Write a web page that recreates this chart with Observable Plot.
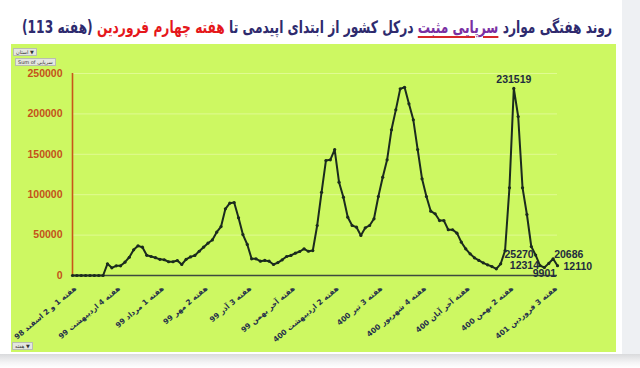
<!DOCTYPE html>
<html>
<head>
<meta charset="utf-8">
<script src="https://cdn.jsdelivr.net/npm/d3@7"></script>
<script src="https://cdn.jsdelivr.net/npm/@observablehq/plot@0.6"></script>
<style>
  html, body { margin: 0; padding: 0; background: #ffffff; }
  #wrap { position: relative; width: 640px; height: 368px; overflow: hidden; background: #ffffff; }
  #rightStrip { position: absolute; left: 622px; top: 0; width: 18px; height: 368px; background: #eef0f3; }
  #bottomStrip { position: absolute; left: 0; top: 354px; width: 640px; height: 14px; background: linear-gradient(#d9dadc, #f4f4f5 60%, #ffffff); }
  #panel { position: absolute; left: 11px; top: 44px; width: 605px; height: 308px; background: #cdf862; }
  #title { position: absolute; left: 22px; top: 17px; direction: rtl; transform-origin: left center;
           font-family: "DejaVu Sans", sans-serif; font-weight: bold; font-size: 17px; color: #2e2a6e; white-space: nowrap; }
  #title .hl { color: #7a2fa3; text-decoration: underline; text-decoration-color: #d6262a; text-decoration-thickness: 2px; text-underline-offset: 3px; }
  #title .red { color: #e5171b; }
  .btn { position: absolute; background: #e4e6e0; border: 1px solid #b9bdb2; font-family: "DejaVu Sans", sans-serif;
         font-size: 5px; line-height: 6px; color: #333; padding: 0 2px; white-space: nowrap; }
  #chart { position: absolute; left: 0; top: 0; }
</style>
</head>
<body>
<div id="wrap">
  <div id="rightStrip"></div>
  <div id="bottomStrip"></div>
  <div id="panel"></div>
  <span id="title">روند هفتگی موارد <span class="hl">سرپایی مثبت</span> درکل کشور از ابتدای اپیدمی تا <span class="red">هفته چهارم فروردین</span> (هفته 113)</span>
  <div class="btn" style="left:13px; top:48px;">استان ▼</div>
  <div class="btn" style="left:15px; top:58px;">Sum of سرپایی</div>
  <div class="btn" style="left:12px; top:342px;">هفته ▼</div>
  <div id="chart"></div>
</div>
<script>
// Weekly positive outpatient cases (one value per week)
const weeklyCases = [
  0, 0, 0, 0, 0, 0, 0, 0,
  14500, 9500, 12000, 12000, 16500, 22600, 31800, 36700, 35000, 25000,
  23500, 22000, 20000, 19500, 17000, 17000, 18500, 13600, 20000, 23000,
  24800, 30000, 35000, 40000, 44000, 53600, 60600, 82500, 89500, 90300,
  71400, 50700, 38400, 20600, 20600, 17700, 18600, 17700, 13600, 16000,
  19400, 23500, 24800, 27600, 29700, 33000, 30000, 30900, 61900, 103000,
  142300, 143200, 155900, 115500, 96900, 72200, 61900, 59800, 49500, 59000,
  61900, 70200, 97800, 121700, 143200, 180300, 205000, 231000, 233000, 212500,
  192700, 155900, 119700, 97800, 79600, 76400, 68000, 68000, 56600, 56600,
  52400, 41200, 33000, 26800, 21900, 18600, 15700, 13200, 11100, 8300,
  14500, 30900, 108500, 231519, 196800, 108500, 75500, 35900, 25270, 12314,
  9901, 15000, 20686, 12110
];

// Category tick labels (one every 10 weeks)
const tickLabels = [
  "هفته 1 و 2 اسفند 98",
  "هفته 4 اردیبهشت 99",
  "هفته 1 مرداد 99",
  "هفته 2 مهر 99",
  "هفته 3 آذر 99",
  "هفته آخر بهمن 99",
  "هفته 2 اردیبهشت 400",
  "هفته 3 تیر 400",
  "هفته 4 شهریور 400",
  "هفته آخر آبان 400",
  "هفته 2 بهمن 400",
  "هفته 3 فروردین 401"
];
const tickEvery = 10;

const yTicks = [0, 50000, 100000, 150000, 200000, 250000];

// weeks that carry a data label
const labeledWeeks = [101, 106, 107, 108, 110, 111];

const data = weeklyCases.map((v, i) => ({week: i, cases: v}));
const ticks = tickLabels.map((t, k) => ({week: k * tickEvery, label: t}));
const labeled = labeledWeeks.map(w => ({week: w, cases: weeklyCases[w]}));

const lineColor = "#1b2b1e";
const labelFont = "Liberation Sans, Arial, sans-serif";
const labelColor = "#1f2c3e";

function labelMark(w, opts) {
  return Plot.text(labeled.filter(d => d.week === w), {
    x: "week", y: "cases", text: d => String(d.cases),
    fontFamily: labelFont, fontWeight: "bold", fontSize: 10.5, fill: labelColor, ...opts
  });
}

const plot = Plot.plot({
  width: 640,
  height: 368,
  marginLeft: 72,
  marginRight: 83,
  marginTop: 73,
  marginBottom: 93,
  style: {background: "transparent", overflow: "visible"},
  x: {domain: [0, weeklyCases.length - 1], axis: null},
  y: {domain: [0, 250000], axis: null},
  marks: [
    Plot.gridY(yTicks.slice(1), {stroke: "#e2fb98", strokeOpacity: 0.9, strokeWidth: 1}),
    Plot.axisY(yTicks, {
      label: null, tickSize: 0, tickPadding: 10, tickFormat: d => String(d),
      fill: "#c4531a", fontWeight: "bold", fontSize: 10.5, fontFamily: labelFont
    }),
    Plot.ruleX([0], {y1: 0, y2: 250000, stroke: "#c8561a", strokeWidth: 1.6}),
    Plot.ruleY([0], {x1: 0, x2: weeklyCases.length - 1, stroke: "#3e4a3e", strokeWidth: 1.5}),
    Plot.line(data, {x: "week", y: "cases", stroke: lineColor, strokeWidth: 2, curve: "linear"}),
    Plot.dot(data, {x: "week", y: "cases", r: 1.6, fill: lineColor, stroke: "none"}),
    Plot.text(ticks, {
      x: "week", y: () => 0, text: "label", rotate: -40, textAnchor: "end",
      dx: 3, dy: 12, fontFamily: "DejaVu Sans, sans-serif", fontWeight: "bold", fontSize: 7.4, fill: "#25304a"
    }),
    labelMark(101, {textAnchor: "middle", dy: -9}),
    labelMark(106, {textAnchor: "end", dx: -2, dy: 0}),
    labelMark(107, {textAnchor: "end", dx: -1, dy: 0}),
    labelMark(108, {textAnchor: "middle", dy: 6}),
    labelMark(110, {textAnchor: "start", dx: 1, dy: -4}),
    labelMark(111, {textAnchor: "start", dx: 6, dy: 1})
  ]
});
document.getElementById("chart").appendChild(plot);

// fit the title to the width it occupies in the reference (x 22 to 612)
const t = document.getElementById("title");
const w = t.getBoundingClientRect().width;
if (w > 590) t.style.transform = `scaleX(${590 / w})`;
else t.style.left = (22 + (590 - w) / 2) + "px";
</script>
</body>
</html>
